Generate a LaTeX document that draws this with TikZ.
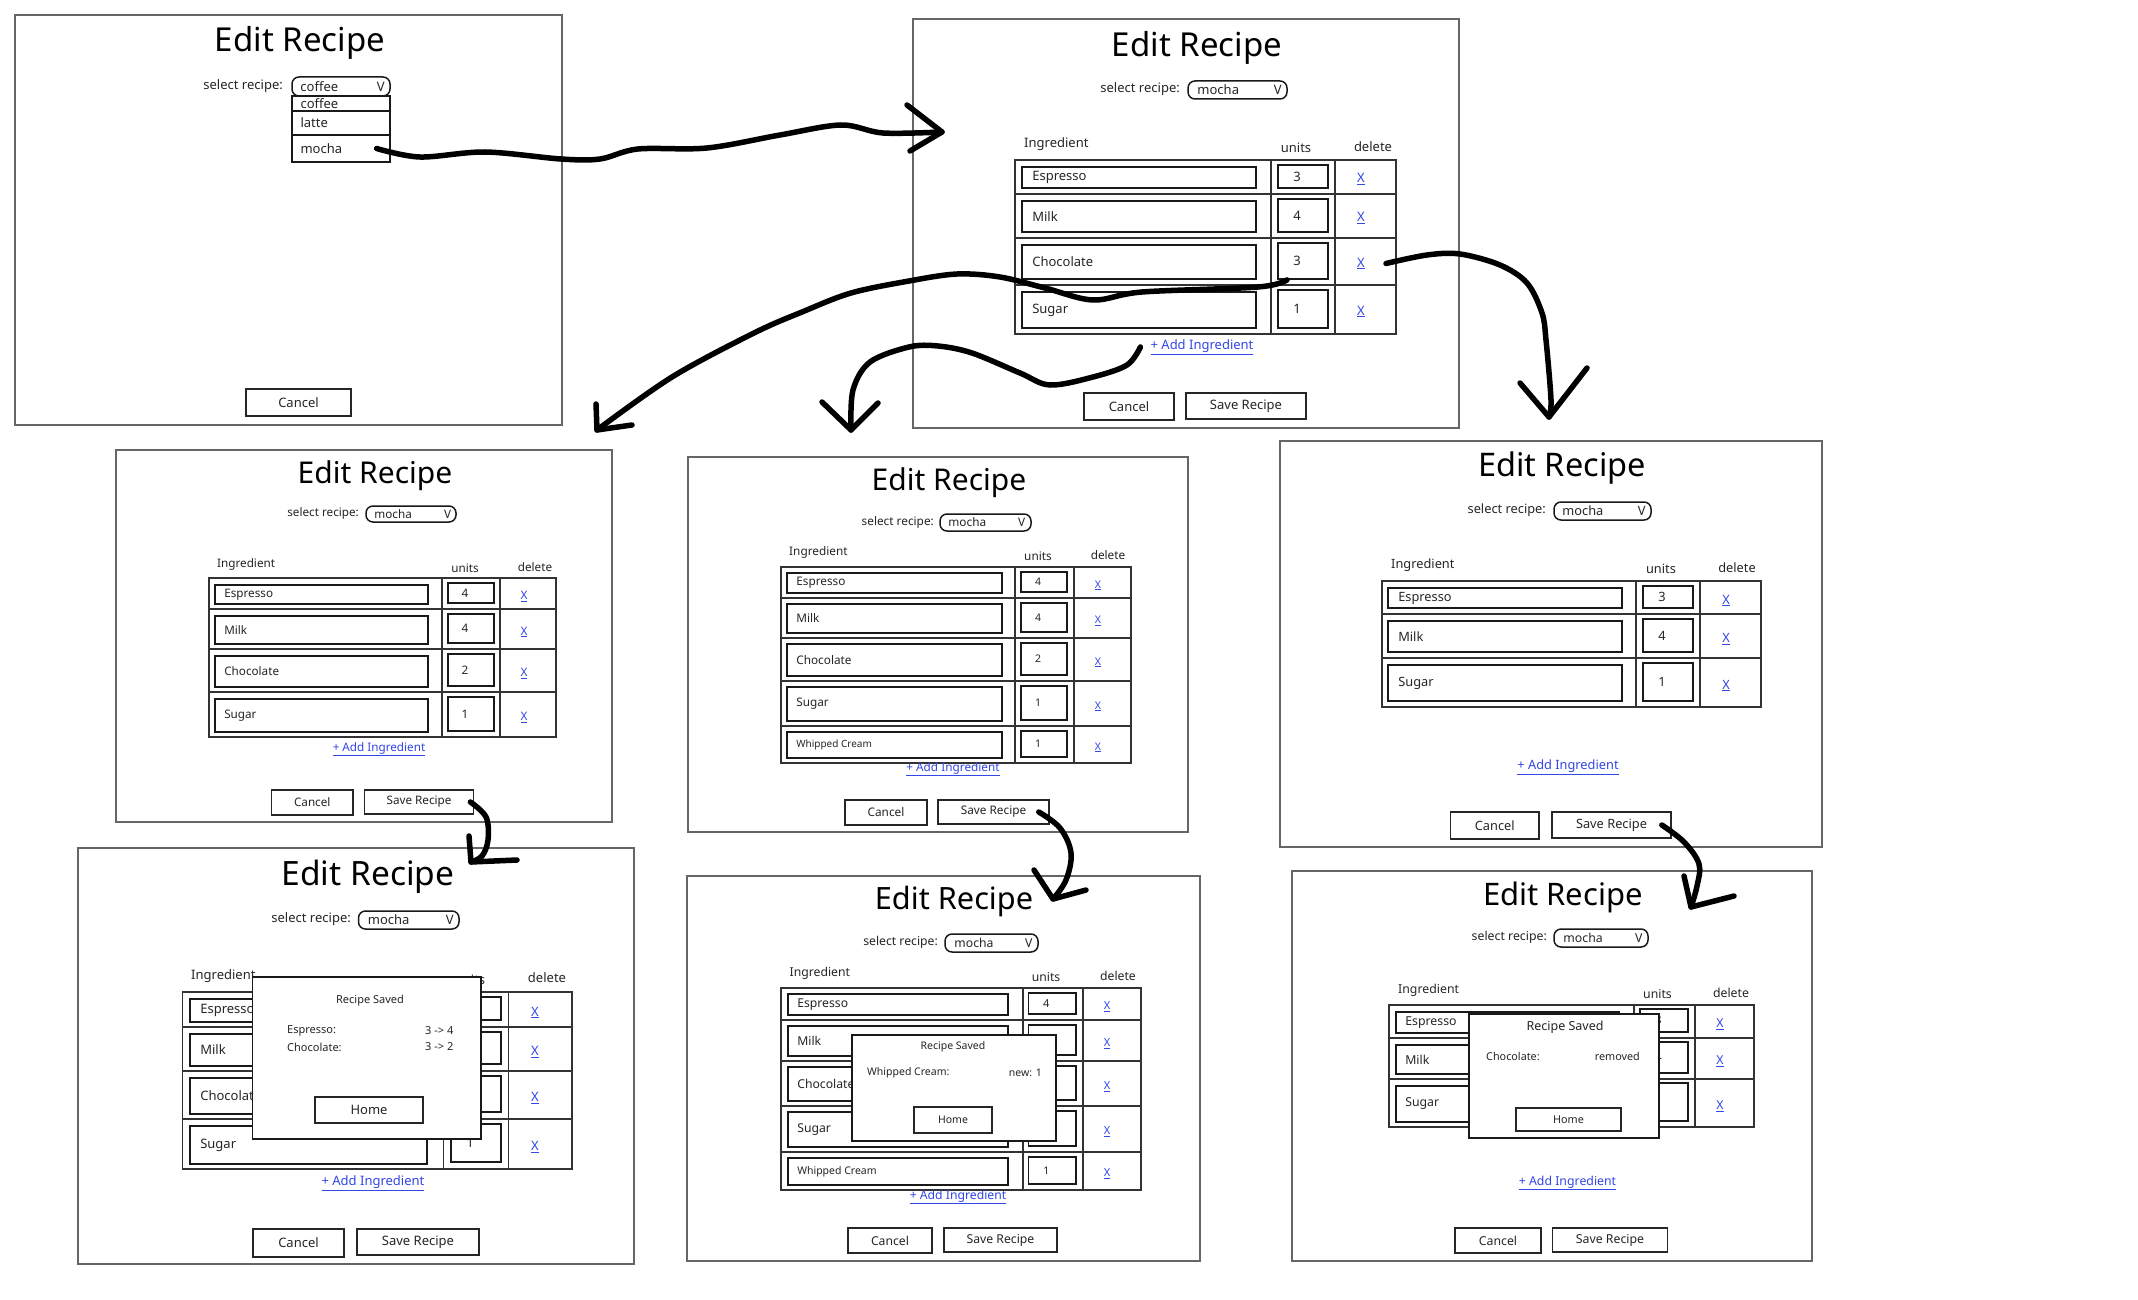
\documentclass[tikz,border=0pt]{standalone}
\usepackage{xcolor}
\usepackage{tikz}
\usepackage{fontspec}
\setmainfont{Noto Sans}
\definecolor{linkblue}{HTML}{3346E6}
\newcommand{\fsz}[1]{\fontsize{#1}{#1}\selectfont}
% box from its corners: style, name, x1, y1, x2, y2, text
\newcommand{\uibox}[7]{\node[#1, minimum width={(#5)-(#3)}, minimum height={(#6)-(#4)}] (#2) at ({((#3)+(#5))/2},{((#4)+(#6))/2}) {#7};}

\begin{document}
\begin{tikzpicture}[x=1pt, y=-1pt,
    uiframe/.style={draw=black!60, line width=1.6pt, inner sep=0pt},
    uititle/.style={inner sep=0pt, text=black},
    uilbl/.style={inner sep=0pt, text=black!85},
    uifield/.style={draw=black!90, line width=1.8pt, inner sep=0pt},
    uigrid/.style={draw=black!80, line width=1.8pt},
    uidrop/.style={draw=black!90, line width=1.5pt, rounded corners=7pt, inner sep=0pt},
    uiitem/.style={draw=black!90, line width=1.3pt, inner sep=0pt},
    uibtn/.style={draw=black!85, line width=1.6pt, inner sep=0pt, text=black!85},
    uilink/.style={inner sep=0pt, text=linkblue},
    uipopup/.style={draw=black!90, line width=1.8pt, fill=white, inner sep=0pt},
    scribble/.style={line width=5.5pt, line cap=round, line join=round}]

    \fill[white] (0,0) rectangle (2138,1300);
    \useasboundingbox (0,0) rectangle (2138,1300);

    % Panel A: pick a recipe
    \begin{scope}[every node/.append style={font=\fsz{13}}]
        \uibox{uiframe}{A}{15}{15}{562}{425}{}
        \node[uititle, font=\fsz{33}] (A-title) at (300,43) {Edit Recipe};
        \node[uilbl, anchor=east] (A-sel) at (283,86) {select recipe:};
        \uibox{uidrop}{A-drop}{292}{77}{390}{96}{}
        \node[uilbl, anchor=west] (A-cur) at ([xshift=9pt]A-drop.west) {coffee};
        \node[uilbl] (A-v) at ([xshift=-10pt]A-drop.east) {V};
        \foreach \k/\ya/\yb/\opt in {1/96/111/coffee, 2/111/135/latte, 3/135/162/mocha} {
            \uibox{uiitem}{A-item\k}{292}{\ya}{390}{\yb}{}
            \node[uilbl, anchor=west] (A-opt\k) at ([xshift=9pt]A-item\k.west) {\opt};
        }
        \uibox{uibtn}{A-cancel}{246}{389}{351}{416}{Cancel}
    \end{scope}

    % Panel B: mocha loaded
    \begin{scope}[every node/.append style={font=\fsz{13}}]
        \uibox{uiframe}{B}{913}{19}{1459}{428}{}
        \node[uititle, font=\fsz{33}] (B-title) at (1197,48) {Edit Recipe};
        \node[uilbl, anchor=east] (B-sel) at (1180,89) {select recipe:};
        \uibox{uidrop}{B-drop}{1188}{81}{1287}{99}{}
        \node[uilbl, anchor=west] (B-cur) at ([xshift=10pt]B-drop.west) {mocha};
        \node[uilbl] (B-v) at ([xshift=-10pt]B-drop.east) {V};
        \node[uilbl, anchor=west] (B-hing) at (1024,144) {Ingredient};
        \node[uilbl] (B-hunit) at (1296,148) {units};
        \node[uilbl] (B-hdel) at (1373,147) {delete};
        \draw[uigrid] (1015,160) rectangle (1396,334) (1271,160) -- (1271,334) (1335,160) -- (1335,334);
        \foreach \k/\ya/\yb/\ing/\val in {1/160/194/Espresso/3, 2/194/238/Milk/4, 3/238/285/Chocolate/3, 4/285/334/Sugar/1} {
            \draw[uigrid] (1015,\yb) -- (1396,\yb);
            \uibox{uifield}{B-f\k}{1022}{\ya+7}{1256}{\yb-6}{}
            \node[uilbl, anchor=west] (B-fl\k) at ([xshift=11pt]B-f\k.west) {\ing};
            \uibox{uifield}{B-u\k}{1278}{\ya+5}{1328}{\yb-6}{}
            \node[uilbl] (B-ul\k) at ([xshift=-6pt]B-u\k.center) {\val};
            \node[uilink] (B-x\k) at (1361,{(\ya+\yb)/2+2}) {\underline{X}};
        }
        \node[uilink] (B-add) at (1202,347) {\underline{+ Add Ingredient}};
        \uibox{uibtn}{B-cancel}{1084}{393}{1174}{420}{Cancel}
        \uibox{uibtn}{B-save}{1186}{393}{1306}{419}{Save Recipe}
    \end{scope}

    % Panel C: units changed
    \begin{scope}[every node/.append style={font=\fsz{11.7}}]
        \uibox{uiframe}{C}{116}{450}{612}{822}{}
        \node[uititle, font=\fsz{30}] (C-title) at (375,476) {Edit Recipe};
        \node[uilbl, anchor=east] (C-sel) at (359,513) {select recipe:};
        \uibox{uidrop}{C-drop}{366}{506}{456}{522}{}
        \node[uilbl, anchor=west] (C-cur) at ([xshift=9pt]C-drop.west) {mocha};
        \node[uilbl] (C-v) at ([xshift=-9pt]C-drop.east) {V};
        \node[uilbl, anchor=west] (C-hing) at (217,564) {Ingredient};
        \node[uilbl] (C-hunit) at (465,568) {units};
        \node[uilbl] (C-hdel) at (535,567) {delete};
        \draw[uigrid] (209,578) rectangle (556,737) (441.6,578) -- (441.6,737) (500,578) -- (500,737);
        \foreach \k/\ya/\yb/\ing/\val in {1/578/609/Espresso/4, 2/609/649/Milk/4, 3/649/692/Chocolate/2, 4/692/737/Sugar/1} {
            \draw[uigrid] (209,\yb) -- (556,\yb);
            \uibox{uifield}{C-f\k}{215}{\ya+7}{428}{\yb-5}{}
            \node[uilbl, anchor=west] (C-fl\k) at ([xshift=10pt]C-f\k.west) {\ing};
            \uibox{uifield}{C-u\k}{448}{\ya+5}{494}{\yb-6}{}
            \node[uilbl] (C-ul\k) at ([xshift=-6pt]C-u\k.center) {\val};
            \node[uilink] (C-x\k) at (524,{(\ya+\yb)/2+3}) {\underline{X}};
        }
        \node[uilink] (C-add) at (379,749) {\underline{+ Add Ingredient}};
        \uibox{uibtn}{C-cancel}{271.5}{790}{353}{815}{Cancel}
        \uibox{uibtn}{C-save}{364.5}{790}{473.6}{814}{Save Recipe}
    \end{scope}

    % Panel D: ingredient added
    \begin{scope}[every node/.append style={font=\fsz{11.8}}]
        \uibox{uiframe}{D}{688}{457}{1188}{832}{}
        \node[uititle, font=\fsz{30}] (D-title) at (949,483) {Edit Recipe};
        \node[uilbl, anchor=east] (D-sel) at (934,522) {select recipe:};
        \uibox{uidrop}{D-drop}{940}{514}{1031}{531}{}
        \node[uilbl, anchor=west] (D-cur) at ([xshift=9pt]D-drop.west) {mocha};
        \node[uilbl] (D-v) at ([xshift=-10pt]D-drop.east) {V};
        \node[uilbl, anchor=west] (D-hing) at (789,552) {Ingredient};
        \node[uilbl] (D-hunit) at (1038,556) {units};
        \node[uilbl] (D-hdel) at (1108,555) {delete};
        \draw[uigrid] (781,567) rectangle (1131,763) (1015,567) -- (1015,763) (1074,567) -- (1074,763);
        \foreach \k/\ya/\yb/\ing/\val in {1/567/598/Espresso/4, 2/598/638/Milk/4, 3/638/681/Chocolate/2, 4/681/726/Sugar/1, 5/726/763/{\fsz{10}Whipped Cream}/1} {
            \draw[uigrid] (781,\yb) -- (1131,\yb);
            \uibox{uifield}{D-f\k}{787}{\ya+6}{1002}{\yb-5}{}
            \node[uilbl, anchor=west] (D-fl\k) at ([xshift=10pt]D-f\k.west) {\ing};
            \uibox{uifield}{D-u\k}{1021}{\ya+5}{1067}{\yb-6}{}
            \node[uilbl, font=\fsz{10.5}] (D-ul\k) at ([xshift=-6pt]D-u\k.center) {\val};
            \node[uilink, font=\fsz{10.5}] (D-x\k) at (1098,{(\ya+\yb)/2+3}) {\underline{X}};
        }
        \node[uilink] (D-add) at (953,769) {\underline{+ Add Ingredient}};
        \uibox{uibtn}{D-cancel}{845}{800}{927}{825}{Cancel}
        \uibox{uibtn}{D-save}{938}{800}{1049}{824}{Save Recipe}
    \end{scope}

    % Panel E: ingredient deleted
    \begin{scope}[every node/.append style={font=\fsz{12.8}}]
        \uibox{uiframe}{E}{1280}{441}{1822}{847}{}
        \node[uititle, font=\fsz{32.5}] (E-title) at (1562,468) {Edit Recipe};
        \node[uilbl, anchor=east] (E-sel) at (1546,510) {select recipe:};
        \uibox{uidrop}{E-drop}{1554}{502}{1651}{520}{}
        \node[uilbl, anchor=west] (E-cur) at ([xshift=9pt]E-drop.west) {mocha};
        \node[uilbl] (E-v) at ([xshift=-10pt]E-drop.east) {V};
        \node[uilbl, anchor=west] (E-hing) at (1391,565) {Ingredient};
        \node[uilbl] (E-hunit) at (1661,569) {units};
        \node[uilbl] (E-hdel) at (1737,568) {delete};
        \draw[uigrid] (1382,581) rectangle (1761,707) (1636,581) -- (1636,707) (1700,581) -- (1700,707);
        \foreach \k/\ya/\yb/\ing/\val in {1/581/614/Espresso/3, 2/614/658/Milk/4, 3/658/707/Sugar/1} {
            \draw[uigrid] (1382,\yb) -- (1761,\yb);
            \uibox{uifield}{E-f\k}{1388}{\ya+7}{1622}{\yb-6}{}
            \node[uilbl, anchor=west] (E-fl\k) at ([xshift=11pt]E-f\k.west) {\ing};
            \uibox{uifield}{E-u\k}{1643}{\ya+5}{1693}{\yb-6}{}
            \node[uilbl] (E-ul\k) at ([xshift=-6pt]E-u\k.center) {\val};
            \node[uilink] (E-x\k) at (1726,{(\ya+\yb)/2+3}) {\underline{X}};
        }
        \node[uilink] (E-add) at (1568,767) {\underline{+ Add Ingredient}};
        \uibox{uibtn}{E-cancel}{1450.5}{812}{1539}{839}{Cancel}
        \uibox{uibtn}{E-save}{1552}{812}{1671}{838}{Save Recipe}
    \end{scope}

    % Panel F: saved after units change
    \begin{scope}[every node/.append style={font=\fsz{13}}]
        \uibox{uiframe}{F}{78}{848}{634}{1264}{}
        \node[uititle, font=\fsz{33.5}] (F-title) at (368,877) {Edit Recipe};
        \node[uilbl, anchor=east] (F-sel) at (351,919) {select recipe:};
        \uibox{uidrop}{F-drop}{358.5}{911}{459}{929}{}
        \node[uilbl, anchor=west] (F-cur) at ([xshift=10pt]F-drop.west) {mocha};
        \node[uilbl] (F-v) at ([xshift=-10pt]F-drop.east) {V};
        \node[uilbl, anchor=west] (F-hing) at (191,976) {Ingredient};
        \node[uilbl] (F-hunit) at (470,980) {units};
        \node[uilbl] (F-hdel) at (547,978) {delete};
        \draw[uigrid] (182.5,992) rectangle (572,1169) (443.5,992) -- (443.5,1169) (508.5,992) -- (508.5,1169);
        \foreach \k/\ya/\yb/\ing in {1/992/1027/Espresso, 2/1027/1071/Milk, 3/1071/1119/Chocolate, 4/1119/1169/Sugar} {
            \draw[uigrid] (182.5,\yb) -- (572,\yb);
            \uibox{uifield}{F-f\k}{190}{\ya+7}{427}{\yb-5}{}
            \node[uilbl, anchor=west] (F-fl\k) at ([xshift=11pt]F-f\k.west) {\ing};
            \uibox{uifield}{F-u\k}{451}{\ya+5}{501}{\yb-7}{}
            \node[uilink] (F-x\k) at (535,{(\ya+\yb)/2+3}) {\underline{X}};
        }
        \node[uilbl] (F-ul4) at ([xshift=-6pt]F-u4.center) {1};
        \uibox{uipopup}{F-pop}{252.5}{977}{481}{1139}{}
        \node[uilbl, font=\fsz{11}] (F-msg) at (370,1001) {Recipe Saved};
        \node[uilbl, font=\fsz{11}, anchor=west] (F-c1) at (287,1031) {Espresso:};
        \node[uilbl, font=\fsz{11}, anchor=west] (F-d1) at (425,1031) {3 -> 4};
        \node[uilbl, font=\fsz{11}, anchor=west] (F-c2) at (287,1047) {Chocolate:};
        \node[uilbl, font=\fsz{11}, anchor=west] (F-d2) at (425,1047) {3 -> 2};
        \uibox{uibtn}{F-home}{315}{1097}{423}{1123}{Home}
        \node[uilink] (F-add) at (373,1183) {\underline{+ Add Ingredient}};
        \uibox{uibtn}{F-cancel}{253}{1229}{344}{1257}{Cancel}
        \uibox{uibtn}{F-save}{357}{1229}{479}{1255}{Save Recipe}
    \end{scope}

    % Panel G: saved after adding
    \begin{scope}[every node/.append style={font=\fsz{12.2}}]
        \uibox{uiframe}{G}{687}{876}{1200}{1261}{}
        \node[uititle, font=\fsz{30.7}] (G-title) at (954,902) {Edit Recipe};
        \node[uilbl, anchor=east] (G-sel) at (938,942) {select recipe:};
        \uibox{uidrop}{G-drop}{945}{934}{1038}{952}{}
        \node[uilbl, anchor=west] (G-cur) at ([xshift=10pt]G-drop.west) {mocha};
        \node[uilbl] (G-v) at ([xshift=-10pt]G-drop.east) {V};
        \node[uilbl, anchor=west] (G-hing) at (789.5,973) {Ingredient};
        \node[uilbl] (G-hunit) at (1046,977) {units};
        \node[uilbl] (G-hdel) at (1118,976) {delete};
        \draw[uigrid] (781,988) rectangle (1141,1190) (1022.6,988) -- (1022.6,1190) (1083,988) -- (1083,1190);
        \foreach \k/\ya/\yb/\ing in {1/988/1020/Espresso, 2/1020/1061/Milk, 3/1061/1106/Chocolate, 4/1106/1152/Sugar, 5/1152/1190/{\fsz{10.5}Whipped Cream}} {
            \draw[uigrid] (781,\yb) -- (1141,\yb);
            \uibox{uifield}{G-f\k}{788}{\ya+6}{1008}{\yb-5}{}
            \node[uilbl, anchor=west] (G-fl\k) at ([xshift=10pt]G-f\k.west) {\ing};
            \uibox{uifield}{G-u\k}{1028.5}{\ya+5}{1076}{\yb-6}{}
            \node[uilink, font=\fsz{11}] (G-x\k) at (1107,{(\ya+\yb)/2+3}) {\underline{X}};
        }
        \node[uilbl, font=\fsz{11}] (G-ul1) at ([xshift=-6pt]G-u1.center) {4};
        \node[uilbl, font=\fsz{10.5}] (G-ul5) at ([xshift=-6pt]G-u5.center) {1};
        \uibox{uipopup}{G-pop}{852}{1035}{1056}{1141}{}
        \node[uilbl, font=\fsz{10.5}] (G-msg) at (953,1047) {Recipe Saved};
        \node[uilbl, font=\fsz{10.5}, anchor=west] (G-c1) at (867,1073) {Whipped Cream:};
        \node[uilbl, font=\fsz{10.5}, anchor=east] (G-d1) at (1042,1073) {new: 1};
        \uibox{uibtn}{G-home}{914}{1107}{992}{1133}{\fsz{10.5}Home}
        \node[uilink] (G-add) at (958,1197) {\underline{+ Add Ingredient}};
        \uibox{uibtn}{G-cancel}{848}{1228}{932}{1253}{Cancel}
        \uibox{uibtn}{G-save}{944}{1228}{1057}{1252}{Save Recipe}
    \end{scope}

    % Panel H: saved after deleting
    \begin{scope}[every node/.append style={font=\fsz{12.3}}]
        \uibox{uiframe}{H}{1292}{871}{1812}{1261}{}
        \node[uititle, font=\fsz{31}] (H-title) at (1563,897) {Edit Recipe};
        \node[uilbl, anchor=east] (H-sel) at (1547,937) {select recipe:};
        \uibox{uidrop}{H-drop}{1554}{929}{1648}{947}{}
        \node[uilbl, anchor=west] (H-cur) at ([xshift=10pt]H-drop.west) {mocha};
        \node[uilbl] (H-v) at ([xshift=-10pt]H-drop.east) {V};
        \node[uilbl, anchor=west] (H-hing) at (1398,990) {Ingredient};
        \node[uilbl] (H-hunit) at (1657.5,994) {units};
        \node[uilbl] (H-hdel) at (1731,993) {delete};
        \draw[uigrid] (1389,1005) rectangle (1754,1127) (1633.6,1005) -- (1633.6,1127) (1695,1005) -- (1695,1127);
        \foreach \k/\ya/\yb/\ing/\val in {1/1005/1038/Espresso/3, 2/1038/1079/Milk/4, 3/1079/1127/Sugar/1} {
            \draw[uigrid] (1389,\yb) -- (1754,\yb);
            \uibox{uifield}{H-f\k}{1396}{\ya+7}{1619}{\yb-5}{}
            \node[uilbl, anchor=west] (H-fl\k) at ([xshift=10pt]H-f\k.west) {\ing};
            \uibox{uifield}{H-u\k}{1640}{\ya+4}{1688}{\yb-6}{}
            \node[uilbl] (H-ul\k) at ([xshift=-6pt]H-u\k.center) {\val};
            \node[uilink] (H-x\k) at (1720,{(\ya+\yb)/2+3}) {\underline{X}};
        }
        \uibox{uipopup}{H-pop}{1469}{1014}{1659}{1138}{}
        \node[uilbl, font=\fsz{12.5}] (H-msg) at (1565,1027) {Recipe Saved};
        \node[uilbl, font=\fsz{10.8}, anchor=west] (H-c1) at (1486,1056) {Chocolate:};
        \node[uilbl, font=\fsz{10.8}, anchor=east] (H-d1) at (1640,1056) {removed};
        \uibox{uibtn}{H-home}{1516}{1108}{1621}{1131}{\fsz{10.8}Home}
        \node[uilink] (H-add) at (1567.5,1183) {\underline{+ Add Ingredient}};
        \uibox{uibtn}{H-cancel}{1455}{1228}{1541}{1253}{Cancel}
        \uibox{uibtn}{H-save}{1552.5}{1228}{1667.5}{1252}{Save Recipe}
    \end{scope}

    % Arrows (hand drawn)
    \coordinate (s1) at ([xshift=-14pt]A-item3.east);
    \coordinate (tip1) at (942,132);
    \coordinate (s2) at ([xshift=-16pt]B-u3.south);
    \coordinate (tip2) at (597,430);
    \coordinate (s3) at ([xshift=-10pt]B-add.west);
    \coordinate (tip3) at (851,430);
    \coordinate (s4) at ([xshift=21pt]B-x3.east);
    \coordinate (tip4) at (1549,417);
    \coordinate (s5) at ([xshift=-4pt]C-save.east);
    \coordinate (tip5) at (471,862);
    \coordinate (s6) at ([xshift=-11pt]D-save.east);
    \coordinate (tip6) at (1053,899);
    \coordinate (s7) at ([xshift=-10pt]E-save.east);
    \coordinate (tip7) at (1691,907);

    \draw[scribble] plot[smooth, tension=0.55] coordinates {(s1) (420,157) (485,152) (561,159) (600,159) (638,149) (707,148) (780,135) (841,125) (883,133) (tip1)};
    \draw[scribble] (907,105) -- (tip1) -- (910,151);

    \draw[scribble] plot[smooth, tension=0.55] coordinates {(s2) (1258,287) (1142,292) (1093,300) (1045,288) (1000,277) (957,274) (909,281) (851,293) (802,312) (754,333) (672,377) (tip2)};
    \draw[scribble] (596,404) -- (tip2) -- (632,425);

    \draw[scribble] plot[smooth, tension=0.55] coordinates {(s3) (1127,365) (1093,377) (1050,385) (1020,373) (972,353) (938,346) (909,347) (870,362) (853,390) (tip3)};
    \draw[scribble] (822,402) -- (tip3) -- (878,403);

    \draw[scribble] plot[smooth, tension=0.55] coordinates {(s4) (1427,255) (1460,254) (1500,265) (1527,283) (1542,313) (1546,340) (1551,400) (tip4)};
    \draw[scribble] (1520,383) -- (tip4) -- (1587,368);

    \draw[scribble] plot[smooth, tension=0.6] coordinates {(s5) (486,817) (488,840) (482,856) (tip5)};
    \draw[scribble] (469,836) -- (tip5) -- (517,860);

    \draw[scribble] plot[smooth, tension=0.6] coordinates {(s6) (1060,828) (1071,853) (1066,880) (tip6)};
    \draw[scribble] (1034,870) -- (tip6) -- (1086,890);

    \draw[scribble] plot[smooth, tension=0.6] coordinates {(s7) (1684,842) (1699,864) (1697,886) (tip7)};
    \draw[scribble] (1684,876) -- (tip7) -- (1734,896);

\end{tikzpicture}
\end{document}
